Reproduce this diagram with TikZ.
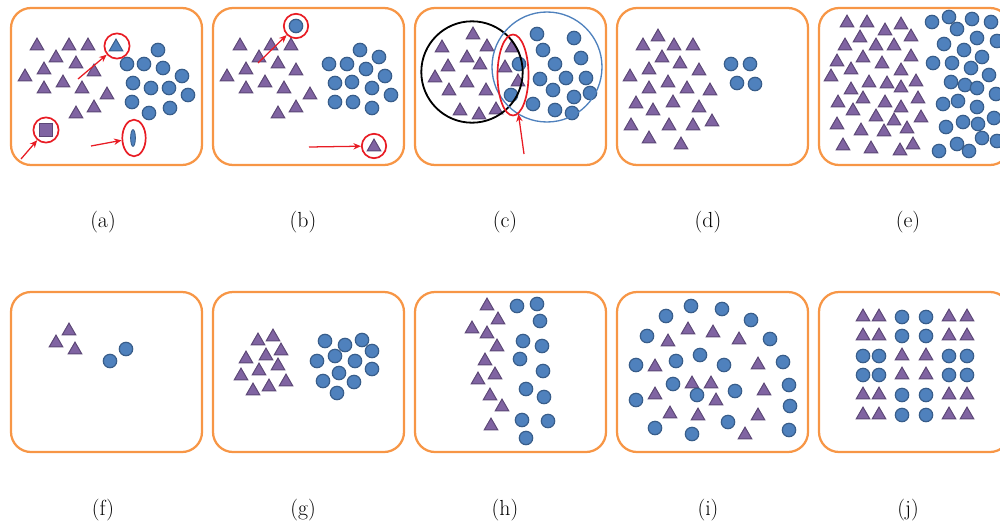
\documentclass[tikz,border=0pt]{standalone}
\usepackage{fontspec}
\usepackage{tikz}
\usetikzlibrary{shapes.geometric,arrows.meta}

\definecolor{boxorange}{RGB}{247,150,70}
\definecolor{purplefill}{RGB}{128,100,162}
\definecolor{purpleline}{RGB}{92,71,118}
\definecolor{bluefill}{RGB}{79,129,189}
\definecolor{blueline}{RGB}{56,93,138}
\definecolor{markred}{RGB}{232,28,36}

\begin{document}
\begin{tikzpicture}[x=0.5mm,y=-0.5mm,
			% Define the styles for panels, shapes and marks
			panel/.style={draw=boxorange, line width=3.2pt, rounded corners=10mm},
			tri/.style={regular polygon, regular polygon sides=3, fill=purplefill, draw=purpleline, line width=1.4pt, inner sep=0pt, minimum size=7.9mm},
			dot/.style={circle, fill=bluefill, draw=blueline, line width=1.7pt, inner sep=0pt, minimum size=6.7mm},
			ring/.style={circle, draw=markred, line width=2.4pt, inner sep=0pt},
			oval/.style={ellipse, draw=markred, line width=2.4pt, inner sep=0pt},
			pointer/.style={draw=markred, line width=1.8pt, -{Stealth[length=3.8mm,width=3.2mm]}},
			lbl/.style={font=\fontsize{31}{33}\selectfont}
			]
			
			\useasboundingbox (0,0) rectangle (1000,525);
			\clip (0,0) rectangle (1000,525);
			
			% frames
			\draw[panel] (11,8) rectangle (202,165);
			\draw[panel] (213,8) rectangle (404,165);
			\draw[panel] (415,8) rectangle (606,165);
			\draw[panel] (617,8) rectangle (808,165);
			\draw[panel] (819,8) rectangle (1010,165);
			\draw[panel] (11,292) rectangle (202,452);
			\draw[panel] (213,292) rectangle (404,452);
			\draw[panel] (415,292) rectangle (606,452);
			\draw[panel] (617,292) rectangle (808,452);
			\draw[panel] (819,292) rectangle (1010,452);
			
			% (a) outliers
			\foreach \x/\y [count=\i] in {37/46,69/46,88/46,56/58,76/64,44/70,25/77,94/72,63/83,44/89,82/89,107/95,94/108,76/114}
				\node[tri] (a-t\i) at (\x,\y) {};
			\foreach \x/\y [count=\i] in {158/50,127/64,144/64,163/68,182/76,133/83,151/88,169/88,188/95,132/102,170/108,149/113}
				\node[dot] (a-c\i) at (\x,\y) {};
			\node[tri, fill=bluefill, draw=blueline] (a-bt) at (116,47) {};
			\node[rectangle, fill=purplefill, draw=purpleline, line width=1.4pt, minimum size=6.4mm, inner sep=0pt] (a-sq) at (46,130) {};
			\node[ellipse, fill=bluefill, draw=blueline, line width=1.2pt, minimum width=2.4mm, minimum height=8.4mm, inner sep=0pt] (a-el) at (133,138) {};
			\node[ring, minimum size=12.6mm] (a-o1) at (117,46) {};
			\node[ring, minimum size=12.6mm] (a-o2) at (46,130) {};
			\node[oval, minimum width=11.7mm, minimum height=18.3mm] (a-o3) at (134,138) {};
			\coordinate (a-s1) at (78,79);
			\coordinate (a-s2) at (21,159);
			\coordinate (a-s3) at (91,146);
			\draw[pointer] (a-s1) -- (a-o1);
			\draw[pointer] (a-s2) -- (a-o2);
			\draw[pointer] (a-s3) -- (a-o3);
			
			% (b) misplaced items
			\foreach \x/\y [count=\i] in {240/46,271/46,291/46,259/58,278/64,246/70,227/77,296/71,265/83,246/89,284/89,310/95,296/108,278/114,374/147}
				\node[tri] (b-t\i) at (\x,\y) {};
			\foreach \x/\y [count=\i] in {296/26,360/50,379/57,329/64,347/64,366/69,385/76,335/83,352/82,372/88,391/95,335/102,353/102,372/108}
				\node[dot] (b-c\i) at (\x,\y) {};
			\node[ring, minimum size=12.2mm] (b-o1) at (296,26) {};
			\node[ring, minimum size=12.2mm] (b-o2) at (374,146) {};
			\coordinate (b-s1) at (258,63);
			\coordinate (b-s2) at (309,147);
			\draw[pointer] (b-s1) -- (b-o1);
			\draw[pointer] (b-s2) -- (b-o2);
			
			% (c) overlapping classes
			\foreach \x/\y [count=\i] in {473/35,442/48,487/47,512/48,467/58,480/65,448/67,505/68,435/78,518/82,467/83,449/91,486/91,460/111,479/115,496/110}
				\node[tri] (c-t\i) at (\x,\y) {};
			\foreach \x/\y [count=\i] in {537/34,574/38,543/50,581/58,519/64,555/64,540/79,566/78,586/78,553/90,511/95,574/97,590/93,533/104,555/110,572/113}
				\node[dot] (c-c\i) at (\x,\y) {};
			\node[circle, draw=black, line width=2.6pt, minimum size=50.7mm] (c-k1) at (472,72) {};
			\node[circle, draw=bluefill, line width=1.9pt, minimum size=55mm] (c-k2) at (547,67) {};
			\node[oval, minimum width=15.5mm, minimum height=40.5mm] (c-o) at (513,75) {};
			\coordinate (c-s) at (524,154);
			\draw[pointer] (c-s) -- (c-o);
			
			% (d) imbalance
			\foreach \x/\y [count=\i] in {658/37,643/46,674/46,693/46,662/58,680/64,649/70,630/77,699/71,668/83,649/89,687/89,710/91,636/104,673/103,653/111,699/108,631/126,669/126,693/126,712/122,649/139,681/145}
				\node[tri] (d-t\i) at (\x,\y) {};
			\foreach \x/\y [count=\i] in {731/64,750/64,737/83,755/84}
				\node[dot] (d-c\i) at (\x,\y) {};
			
			% (e) large data
			\foreach \x/\y [count=\i] in {847/23,867/23,901/25,885/31,911/37,860/38,845/46,876/46,894/46,863/58,911/57,837/62,882/64,851/70,901/71,831/77,869/83,887/84,901/88,916/82,851/90,918/99,863/99,838/103,885/103,901/108,853/111,876/117,921/118,894/121,837/125,861/131,884/132,907/129,843/146,871/149,900/151,913/145}
				\node[tri] (e-t\i) at (\x,\y) {};
			\foreach \x/\y [count=\i] in {932/22,949/17,972/19,991/22,957/29,977/38,997/41,944/44,964/50,982/57,933/63,952/63,971/68,989/75,951/82,965/85,977/88,996/94,943/104,958/101,977/107,994/118,946/127,963/122,978/124,982/138,997/141,939/151,957/144,969/151}
				\node[dot] (e-c\i) at (\x,\y) {};
			
			% (f) small data
			\foreach \x/\y [count=\i] in {69/331,56/343,75/350}
				\node[tri] (f-t\i) at (\x,\y) {};
			\foreach \x/\y [count=\i] in {126/349,110/361}
				\node[dot] (f-c\i) at (\x,\y) {};
			
			% (g) separable
			\foreach \x/\y [count=\i] in {258/341,273/337,281/351,246/359,266/356,278/366,241/376,259/371,286/382,253/391,269/387}
				\node[tri] (g-t\i) at (\x,\y) {};
			\foreach \x/\y [count=\i] in {325/341,345/345,362/340,372/351,317/361,335/356,355/361,372/369,339/373,323/381,354/382,337/393}
				\node[dot] (g-c\i) at (\x,\y) {};
			
			% (h) close boundary
			\foreach \x/\y [count=\i] in {487/306,498/320,472/329,487/334,497/347,485/361,495/375,478/380,490/396,502/407,491/426}
				\node[tri] (h-t\i) at (\x,\y) {};
			\foreach \x/\y [count=\i] in {517/306,537/304,540/321,523/341,542/346,520/359,543/371,526/389,544/397,522/420,548/421,526/438}
				\node[dot] (h-c\i) at (\x,\y) {};
			
			% (i) mixed
			\foreach \x/\y [count=\i] in {688/330,713/333,739/340,668/342,758/365,655/367,692/384,711/384,764/391,655/395,716/401,670/414,698/416,758/416,745/435}
				\node[tri] (i-t\i) at (\x,\y) {};
			\foreach \x/\y [count=\i] in {691/306,722/309,666/316,751/320,647/336,770/339,700/355,676/361,636/365,724/365,783/362,673/384,735/391,697/395,789/385,636/400,790/406,728/422,655/428,692/434,789/430}
				\node[dot] (i-c\i) at (\x,\y) {};
			
			% (j) checkerboard
			\foreach \y [count=\r] in {317,336,395,415} {
				\foreach \x [count=\i] in {863,879,949,967}
					\node[tri] (j-t\r\i) at (\x,\y) {};
				\foreach \x [count=\i] in {902,926}
					\node[dot] (j-c\r\i) at (\x,\y) {};
			}
			\foreach \y [count=\r] in {356,375} {
				\foreach \x [count=\i] in {902,926}
					\node[tri] (j-u\r\i) at (\x,\y) {};
				\foreach \x [count=\i] in {863,879,949,967}
					\node[dot] (j-d\r\i) at (\x,\y) {};
			}
			
			% captions
			\node[lbl] (la) at (103,222) {(a)};
			\node[lbl] (lb) at (303,222) {(b)};
			\node[lbl] (lc) at (505,222) {(c)};
			\node[lbl] (ld) at (708,222) {(d)};
			\node[lbl] (le) at (908,222) {(e)};
			\node[lbl] (lf) at (103,510) {(f)};
			\node[lbl] (lg) at (303,510) {(g)};
			\node[lbl] (lh) at (505,510) {(h)};
			\node[lbl] (li) at (708,510) {(i)};
			\node[lbl] (lj) at (908,510) {(j)};
			
		\end{tikzpicture}
\end{document}
